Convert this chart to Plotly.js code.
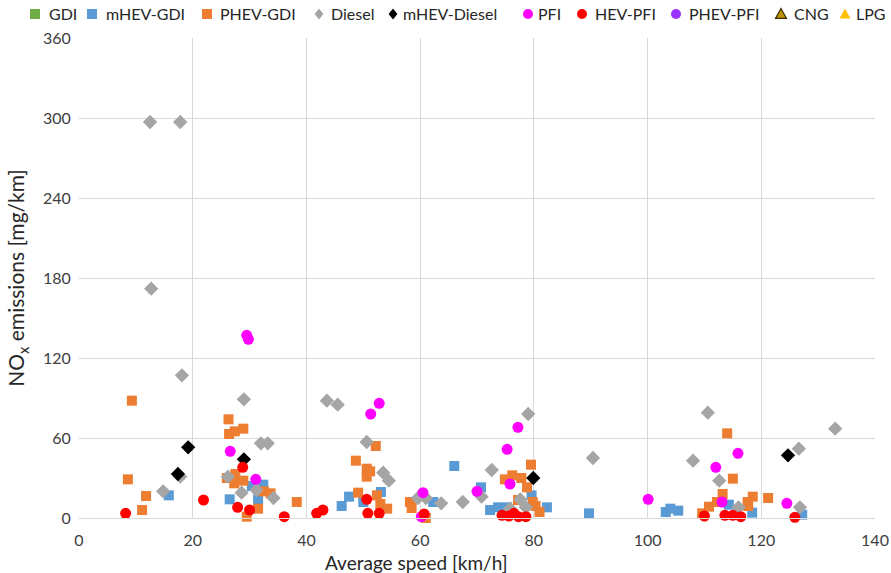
<!DOCTYPE html>
<html>
<head>
<meta charset="utf-8">
<script src="https://cdn.plot.ly/plotly-3.0.1.min.js"></script>
<style>html,body{margin:0;padding:0;background:#fff;}#chart{width:891px;height:573px;}</style>
</head>
<body>
<div id="chart"></div>
<script>
// Series data: [speed km/h], [NOx mg/km]
const gdiX = [], gdiY = [];
const mhevGdiX = [15.8,26.5,30.4,31.5,32.4,46.2,47.5,50,53.1,62.3,66,70.7,72.3,73.7,75.3,79.6,82.3,89.7,103.2,104,105.4,114.3,118.4,127.2];
const mhevGdiY = [17,14,24,14,25,9,16,12,19.5,12,39,23,6,8,8,17,8,3.5,4.5,7,5.5,10,4,2.5];
const phevGdiX = [9.3,8.6,11.8,11.1,26.3,26.4,27.4,28.9,26,27.5,27.3,28.9,29.5,31.5,32.5,33.7,38.3,52.2,48.7,50.6,51.2,50.6,49.1,52.4,53,54.2,58.2,58.5,61,79.5,74.9,76.2,77.8,78.8,77.2,79.8,80.3,81,114,115,113.2,112.2,110.8,109.6,117.6,118.5,121.2,117.7];
const phevGdiY = [88,29,16.5,6,74,63,65,67,30,33,26,28,1,7,20,18.5,12,54,43,37,35,31,19,17,10.5,7,12,7.5,0,40,29,32,30,23,13.5,12,9,4.5,63.5,29.5,18,12,8.5,3.5,12,16,15,9];
const dieselX = [12.5,17.8,12.7,18.1,14.8,17.8,29.0,26.2,28.6,32.0,33.2,31.2,34.2,43.6,45.5,50.6,53.5,54.5,59.6,61.0,63.7,67.5,72.6,70.8,77.6,78.6,75.8,79,90.4,110.6,108,112.6,116,126.6,133,126.8];
const dieselY = [297,297,172,107,20,31,89,31,19,56,56,21,15,88,85,57,34,28,15,15,11,12,36,16,14,8,7,78,45,79,43,28,8,52,67,8];
const mhevDieselX = [19.2,17.4,29.0,79.9,124.7];
const mhevDieselY = [53,33,44,30,47];
const pfiX = [29.5,29.8,26.6,31.1,52.8,51.3,60.5,60.2,77.2,75.3,70,75.8,100.1,115.9,112,113.1,124.5];
const pfiY = [137,134,50,29,86,78,19,1,68,51.5,20,25.5,14,48.5,38,12,11];
const hevPfiX = [8.2,21.9,28.8,27.9,30,36.1,41.8,42.9,50.6,50.8,52.8,60.7,74.4,75.6,76.5,77.3,78.6,110,113.6,115,116.4,125.9];
const hevPfiY = [3.5,13.5,38,8,6,1,3.5,6,14,3.5,3.5,3,2,1.5,3.5,1,1,1.5,2,2,1,0.5];
const phevPfiX = [], phevPfiY = [];
const cngX = [], cngY = [];
const lpgX = [], lpgY = [];

const names = ['GDI','mHEV-GDI','PHEV-GDI','Diesel','mHEV-Diesel','PFI','HEV-PFI','PHEV-PFI','CNG','LPG'];
const xTicks = [0,20,40,60,80,100,120,140];
const yTicks = [0,60,120,180,240,300,360];
const xTitle = 'Average speed [km/h]';
const yTitle = 'NO<sub>x</sub> emissions [mg/km]';

// styles
const symbols = ['square','square','square','diamond','diamond','circle','circle','circle','triangle-up','triangle-up'];
const colors  = ['#70AD47','#5B9BD5','#ED7D31','#A5A5A5','#000000','#FF00FF','#FF0000','#9933FF','#BF9000','#FFC000'];
const outlines = [null,null,null,null,null,null,null,null,'#3A3000',null];
const sizes = [10,10,10,11,11,11,11,11,11,11];
const seriesX = [gdiX,mhevGdiX,phevGdiX,dieselX,mhevDieselX,pfiX,hevPfiX,phevPfiX,cngX,lpgX];
const seriesY = [gdiY,mhevGdiY,phevGdiY,dieselY,mhevDieselY,pfiY,hevPfiY,phevPfiY,cngY,lpgY];

const data = names.map((n,i) => ({
  type:'scatter', mode:'markers', name:n, x:seriesX[i], y:seriesY[i], cliponaxis:false, showlegend:false,
  marker:{symbol:symbols[i], color:colors[i], size:sizes[i],
    line: outlines[i] ? {width:1.5, color:outlines[i]} : {width:0}}
}));

// custom legend (layout positions in pixels)
const W = 891, H = 573, ML = 79, MR = 16, MT = 38, MB = 55;
const PW = W-ML-MR, PH = H-MT-MB;
const px = p => (p-ML)/PW, py = p => (H-MB-p)/PH;
const legSym = [35,92,207,319,393,528,582,676,781,845];
const legTxt = [47,104,218,329,401,536,593,687,792,854];
const legY = 14, s = 5;
const shapes = [], annotations = [];
names.forEach((n,i) => {
  const cx = legSym[i], cy = legY, c = colors[i];
  const ln = outlines[i] ? {color:outlines[i], width:1.2} : {width:0};
  if (symbols[i]==='square') {
    shapes.push({type:'rect', xref:'paper', yref:'paper', x0:px(cx-s), x1:px(cx+s), y0:py(cy+s), y1:py(cy-s), fillcolor:c, line:{width:0}});
  } else if (symbols[i]==='circle') {
    shapes.push({type:'circle', xref:'paper', yref:'paper', x0:px(cx-s), x1:px(cx+s), y0:py(cy+s), y1:py(cy-s), fillcolor:c, line:{width:0}});
  } else if (symbols[i]==='diamond') {
    const d = s+0.5;
    shapes.push({type:'path', xref:'paper', yref:'paper', fillcolor:c, line:{width:0},
      path:`M${px(cx)},${py(cy-d)} L${px(cx+d*0.8)},${py(cy)} L${px(cx)},${py(cy+d)} L${px(cx-d*0.8)},${py(cy)} Z`});
  } else {
    const d = s+0.5;
    shapes.push({type:'path', xref:'paper', yref:'paper', fillcolor:c, line:ln,
      path:`M${px(cx)},${py(cy-d)} L${px(cx+d)},${py(cy+d*0.8)} L${px(cx-d)},${py(cy+d*0.8)} Z`});
  }
  annotations.push({xref:'paper', yref:'paper', x:px(legTxt[i]), y:py(legY), xanchor:'left', yanchor:'middle',
    text:n, showarrow:false, font:{size:16, color:'#262626'}});
});
// x-axis title placed as in the reference (offset left of the plot centre)
annotations.push({xref:'paper', yref:'paper', x:px(416), y:py(562), xanchor:'center', yanchor:'middle',
  text:xTitle, showarrow:false, font:{size:19, color:'#262626'}});

const layout = {
  width:W, height:H,
  margin:{l:ML, r:MR, t:MT, b:MB, autoexpand:false},
  paper_bgcolor:'#fff', plot_bgcolor:'#fff',
  font:{family:'Lato, "Open Sans", sans-serif', size:16, color:'#262626'},
  showlegend:false,
  shapes:shapes, annotations:annotations,
  xaxis:{range:[0,140], tickvals:xTicks, ticktext:xTicks.map(String), showgrid:true, gridcolor:'#D9D9D9', gridwidth:1,
    zeroline:false, showline:true, linecolor:'#D9D9D9', ticks:'outside', ticklen:8, tickcolor:'rgba(0,0,0,0)', tickfont:{size:16, color:'#404040'}},
  yaxis:{range:[0,360], tickvals:yTicks, ticktext:yTicks.map(String), showgrid:true, gridcolor:'#D9D9D9', gridwidth:1,
    zeroline:false, showline:false, ticks:'outside', ticklen:4, tickcolor:'rgba(0,0,0,0)', tickfont:{size:16, color:'#404040'},
    title:{text:yTitle, font:{size:21, color:'#262626'}, standoff:12}}
};
Plotly.newPlot('chart', data, layout, {displayModeBar:false, staticPlot:true});
</script>
</body>
</html>
